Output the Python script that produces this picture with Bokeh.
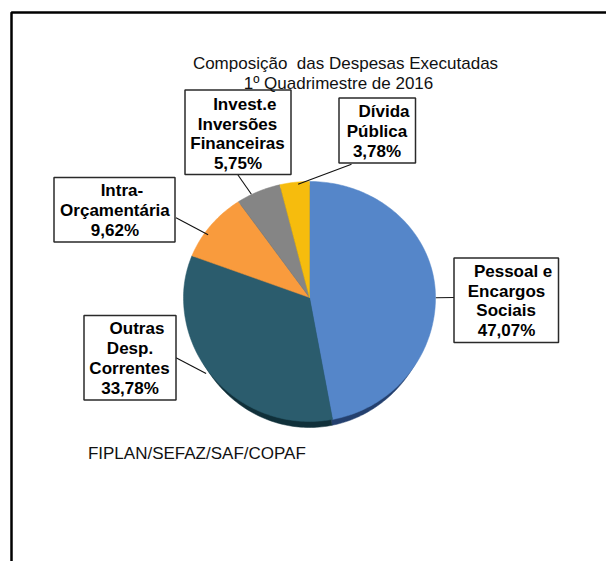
import math
from bokeh.plotting import figure
from bokeh.models import ColumnDataSource, Range1d
from bokeh.core.properties import value
from bokeh.embed import file_html
from bokeh.resources import INLINE

# ---- data ----
categories = ["Pessoal e Encargos Sociais", "Outras Desp. Correntes", "Intra-Orçamentária",
              "Invest.e Inversões Financeiras", "Dívida Pública"]
shares = [47.07, 33.78, 9.62, 5.75, 3.78]
title_lines = ["Composição \u00a0das Despesas Executadas", "1º Quadrimestre de 2016"]
source_note = "FIPLAN/SEFAZ/SAF/COPAF"
label_lines = [
    ["Pessoal e", "Encargos", "Sociais", "47,07%"],
    ["Outras", "Desp.", "Correntes", "33,78%"],
    ["Intra-", "Orçamentária", "9,62%"],
    ["Invest.e", "Inversões", "Financeiras", "5,75%"],
    ["Dívida", "Pública", "3,78%"],
]

# ---- styles and layout ----
colors = ["#5586c9", "#2b5c6d", "#f99b3d", "#858585", "#f6bc0d"]
shadow_colors = ["#24406e", "#10303a", "#10303a", "#10303a", "#10303a"]
FONT = value("Liberation Sans")
CX, CY, RX, RY_TOP, RY_BOT = 309, 297, 126, 116, 124
RIM_RX, RIM_RY = 123, 130

boxes = [(453.5, 558, 257.5, 342), (83.5, 175.5, 315, 399.5), (53.5, 174.5, 177, 241.5),
         (184.5, 290.5, 89.5, 174), (338.5, 415, 97.5, 162.5)]
text_pos = [
    [(512.6, 270.7), (506, 290.5), (505.6, 310), (506, 330)],
    [(136.5, 328.3), (129.5, 348.3), (129, 368.3), (129.5, 387.7)],
    [(121.4, 190), (114.4, 210), (114.4, 229.7)],
    [(244.3, 103.7), (237, 123.5), (237, 142.9), (237.5, 163)],
    [(383.5, 111), (376.5, 131), (376.5, 150.7)],
]
leaders = [((435.3, 297.3), (454, 297)), ((175.5, 357.3), (205.6, 373)), ((175.5, 217.3), (207.6, 234.3)),
           ((237.3, 174.3), (250.9, 193.7)), ((351, 163.7), (297.6, 183.7))]

W, H = 606, 561
p = figure(width=W, height=H, output_backend="svg", toolbar_location=None,
           x_range=Range1d(0, W), y_range=Range1d(H, 0),
           min_border=0, outline_line_color=None)
p.axis.visible = False
p.grid.visible = False
p.background_fill_color = "white"
p.border_fill_color = "white"


def wedge(start, end, rx, ry_top, ry_bot):
    steps = max(2, int((end - start) * 3))
    xs, ys = [CX], [CY]
    for i in range(steps + 1):
        t = math.radians((start + (end - start) * i / steps) * 3.6)
        c = math.cos(t)
        xs.append(CX + rx * math.sin(t))
        ys.append(CY - c * (ry_top if c > 0 else ry_bot))
    return xs, ys


cum = 0
xs, ys, sx, sy = [], [], [], []
for s in shares:
    a, b = wedge(cum, cum + s, RX, RY_TOP, RY_BOT)
    xs.append(a); ys.append(b)
    a, b = wedge(cum, cum + s, RIM_RX, RY_TOP - 4, RIM_RY)
    sx.append(a); sy.append(b)
    cum += s

# frame
p.line([606, 11, 11], [12, 12, 561], line_color="black", line_width=2.5)

# pie with its lower rim
p.patches("x", "y", source=ColumnDataSource(dict(x=sx, y=sy, c=shadow_colors)),
          fill_color="c", line_color="c", line_width=0.5)
p.patches("x", "y", source=ColumnDataSource(dict(x=xs, y=ys, c=colors)),
          fill_color="c", line_color="c", line_width=0.5)

# leaders
for (a, b) in leaders:
    p.line([a[0], b[0]], [a[1], b[1]], line_color="#111111", line_width=1.1)

# label boxes
p.quad(left=[b[0] for b in boxes], right=[b[1] for b in boxes],
       top=[b[2] for b in boxes], bottom=[b[3] for b in boxes],
       fill_color="white", line_color="#2a2a2a", line_width=1.5)

# label text
lx, ly, lt = [], [], []
for lines, pos in zip(label_lines, text_pos):
    for t, (x, y) in zip(lines, pos):
        lx.append(x); ly.append(y); lt.append(t)
p.text(lx, ly, text=lt, text_font=FONT, text_font_style="bold", text_font_size="17px",
       text_align="center", text_baseline="middle", text_color="black")

# title and source
p.text([345, 338], [63, 83.3], text=title_lines, text_font=FONT, text_font_size="17px",
       text_align="center", text_baseline="middle", text_color="#111111")
p.text([87.4], [453.3], text=[source_note], text_font=FONT, text_font_size="17px",
       text_align="left", text_baseline="middle", text_color="#111111")

open("out.html", "w").write(file_html(p, INLINE))
